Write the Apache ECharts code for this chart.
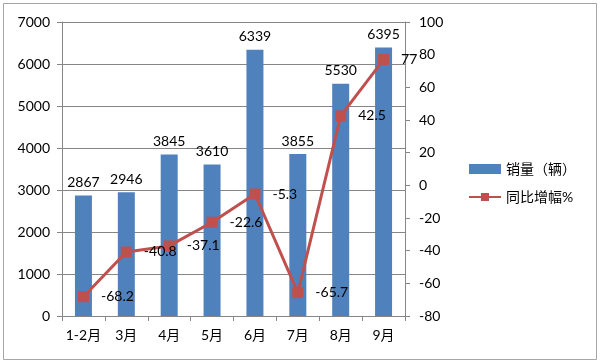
<!DOCTYPE html>
<html><head><meta charset="utf-8">
<script src="https://cdn.jsdelivr.net/npm/echarts@6/dist/echarts.min.js"></script>
<style>html,body{margin:0;padding:0;background:#fff}#c{width:600px;height:363px}</style>
</head><body><div id="c"></div>
<script>
const categories = ['1-2月','3月','4月','5月','6月','7月','8月','9月'];
const sales = [2867, 2946, 3845, 3610, 6339, 3855, 5530, 6395];
const growth = [-68.2, -40.8, -37.1, -22.6, -5.3, -65.7, 42.5, 77];
const leftTicks = {min: 0, max: 7000, interval: 1000};
const rightTicks = {min: -80, max: 100, interval: 20};
const FONT = 'Lato, "Noto Sans CJK SC", sans-serif';
const chart = echarts.init(document.getElementById('c'), null, {renderer: 'canvas'});
chart.setOption({
  animation: false,
  textStyle: {fontFamily: FONT},
  grid: {left: 62, right: 195, top: 22, bottom: 47},
  legend: {
    orient: 'vertical', left: 463, top: 157, itemGap: 14,
    itemWidth: 32, itemHeight: 10,
    textStyle: {fontSize: 14, color: '#000', fontFamily: FONT},
    data: [{name: '销量（辆）', icon: 'rect', itemStyle: {}}, {name: '同比增幅%'}]
  },
  xAxis: {
    type: 'category', data: categories,
    axisLine: {lineStyle: {color: '#868686'}},
    axisTick: {show: true, alignWithLabel: false, length: 5, lineStyle: {color: '#868686'}},
    axisLabel: {color: '#000', fontSize: 14, margin: 12, interval: 0, fontFamily: FONT}
  },
  yAxis: [{
    type: 'value', min: leftTicks.min, max: leftTicks.max, interval: leftTicks.interval,
    axisLine: {show: true, lineStyle: {color: '#868686'}},
    axisTick: {show: true, length: 5, lineStyle: {color: '#868686'}},
    axisLabel: {color: '#000', fontSize: 14, margin: 12, fontFamily: FONT, formatter: v => String(v)},
    splitLine: {lineStyle: {color: '#868686'}}
  }, {
    type: 'value', min: rightTicks.min, max: rightTicks.max, interval: rightTicks.interval,
    axisLine: {show: true, lineStyle: {color: '#868686'}},
    axisTick: {show: true, length: 5, lineStyle: {color: '#868686'}},
    axisLabel: {color: '#000', fontSize: 14, margin: 14, fontFamily: FONT, formatter: v => String(v)},
    splitLine: {show: false}
  }],
  series: [{
    name: '销量（辆）', type: 'bar', data: sales, barWidth: 17,
    itemStyle: {color: '#4F81BD'},
    label: {show: true, position: 'top', distance: 6, color: '#000', fontSize: 14, fontFamily: FONT}
  }, {
    name: '同比增幅%', type: 'line', yAxisIndex: 1, data: growth,
    symbol: 'rect', symbolSize: 11,
    lineStyle: {color: '#C0504D', width: 3},
    itemStyle: {color: '#C0504D'},
    label: {show: true, position: 'right', distance: 12, color: '#000', fontSize: 14, fontFamily: FONT}
  }],
  graphic: [
    {type: 'rect', shape: {x: 3.5, y: 3.5, width: 593, height: 356}, style: {fill: 'none', stroke: '#a6a6a6', lineWidth: 1}, z: -1}
  ]
});
</script></body></html>
